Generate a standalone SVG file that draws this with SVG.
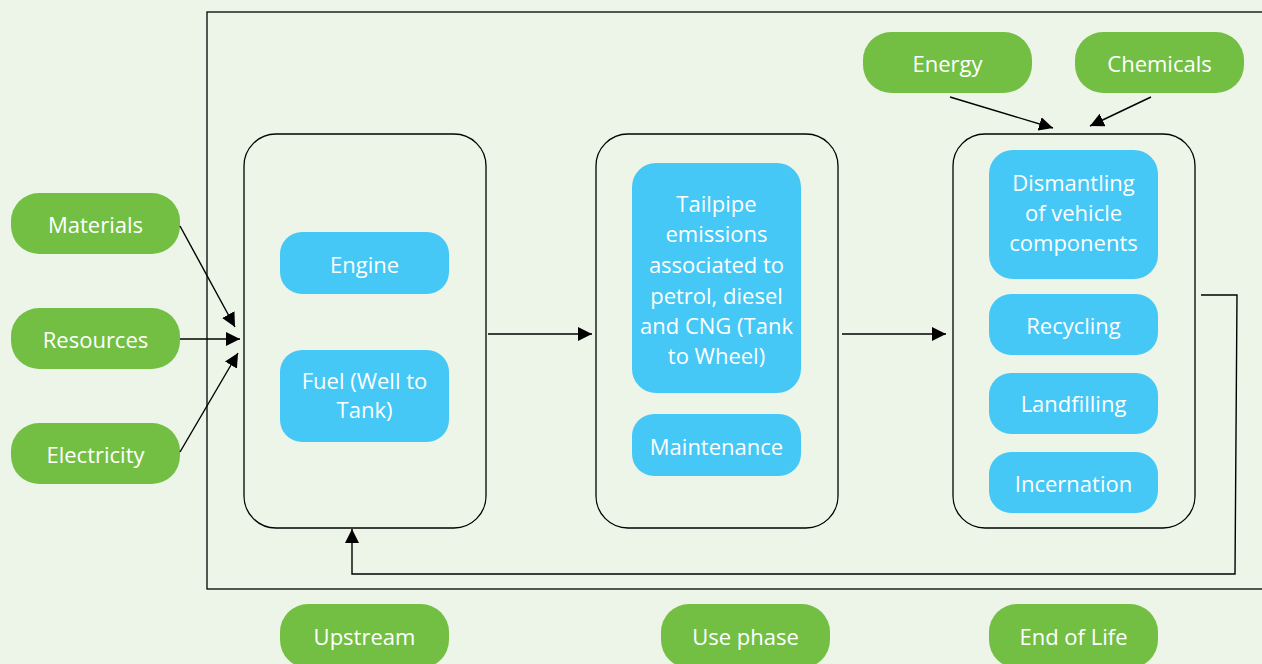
<svg xmlns="http://www.w3.org/2000/svg" width="1262" height="664" viewBox="0 0 1262 664">
<defs>
<style>
.bg{fill:#edf5e8}
.g{fill:#72bf44}
.b{fill:#45c8f5}
.frame{fill:none;stroke:#000;stroke-width:1.3}
.t{font-family:"Open Sans","Liberation Sans",sans-serif;font-size:22px;fill:#fff;text-anchor:middle;dominant-baseline:central}
.c{fill:none;stroke:#000;stroke-width:1.4}
</style>
<marker id="ah" viewBox="0 0 10 10" refX="10" refY="5" markerWidth="14" markerHeight="14" markerUnits="userSpaceOnUse" orient="auto">
<path d="M0,0 L10,5 L0,10 Z" fill="#000"/>
</marker>
</defs>
<rect class="bg" x="0" y="0" width="1262" height="664"/>
<rect class="frame" x="207" y="12" width="1070" height="577"/>
<g id="stage-boxes">
<rect class="frame" x="244" y="134" width="242" height="394" rx="32"/>
<rect class="frame" x="596" y="134" width="242" height="394" rx="32"/>
<rect class="frame" x="953" y="134" width="242" height="394" rx="32"/>
</g>
<g id="materials"><rect class="g" x="11" y="193" width="169" height="61" rx="28"/><text class="t" x="95.5" y="224">Materials</text></g>
<g id="resources"><rect class="g" x="11" y="308" width="169" height="61" rx="28"/><text class="t" x="95.5" y="339">Resources</text></g>
<g id="electricity"><rect class="g" x="11" y="423" width="169" height="61" rx="28"/><text class="t" x="95.5" y="454">Electricity</text></g>
<g id="energy"><rect class="g" x="863" y="32" width="169" height="61" rx="28"/><text class="t" x="947.5" y="63">Energy</text></g>
<g id="chemicals"><rect class="g" x="1075" y="32" width="169" height="61" rx="28"/><text class="t" x="1159.5" y="63">Chemicals</text></g>
<g id="upstream"><rect class="g" x="280" y="604" width="169" height="64" rx="28"/><text class="t" x="364.5" y="636">Upstream</text></g>
<g id="use-phase"><rect class="g" x="661" y="604" width="169" height="64" rx="28"/><text class="t" x="745.5" y="636">Use phase</text></g>
<g id="end-of-life"><rect class="g" x="989" y="604" width="169" height="64" rx="28"/><text class="t" x="1073.5" y="636">End of Life</text></g>
<g id="engine"><rect class="b" x="280" y="232" width="169" height="62" rx="22"/><text class="t" x="364.5" y="264">Engine</text></g>
<g id="fuel"><rect class="b" x="280" y="350" width="169" height="92" rx="22"/><text class="t" x="364.5" y="380">Fuel (Well to</text><text class="t" x="364.5" y="409">Tank)</text></g>
<g id="tailpipe"><rect class="b" x="632" y="163" width="169" height="230" rx="24"/>
<text class="t" x="716.5" y="203">Tailpipe</text>
<text class="t" x="716.5" y="233">emissions</text>
<text class="t" x="716.5" y="264">associated to</text>
<text class="t" x="716.5" y="295">petrol, diesel</text>
<text class="t" x="716.5" y="325">and CNG (Tank</text>
<text class="t" x="716.5" y="355">to Wheel)</text></g>
<g id="maintenance"><rect class="b" x="632" y="414" width="169" height="62" rx="22"/><text class="t" x="716.5" y="446">Maintenance</text></g>
<g id="dismantling"><rect class="b" x="989" y="150" width="169" height="129" rx="24"/>
<text class="t" x="1073.5" y="182">Dismantling</text>
<text class="t" x="1073.5" y="212">of vehicle</text>
<text class="t" x="1073.5" y="242">components</text></g>
<g id="recycling"><rect class="b" x="989" y="294" width="169" height="61" rx="22"/><text class="t" x="1073.5" y="325">Recycling</text></g>
<g id="landfilling"><rect class="b" x="989" y="373" width="169" height="61" rx="22"/><text class="t" x="1073.5" y="403">Landfilling</text></g>
<g id="incernation"><rect class="b" x="989" y="452" width="169" height="61" rx="22"/><text class="t" x="1073.5" y="483">Incernation</text></g>
<g id="connectors">
<line class="c" x1="180" y1="226" x2="235" y2="327" marker-end="url(#ah)"/>
<line class="c" x1="180" y1="339" x2="240" y2="339" marker-end="url(#ah)"/>
<line class="c" x1="180" y1="452" x2="238" y2="353" marker-end="url(#ah)"/>
<line class="c" x1="488" y1="334" x2="592" y2="334" marker-end="url(#ah)"/>
<line class="c" x1="842" y1="334" x2="946" y2="334" marker-end="url(#ah)"/>
<line class="c" x1="950" y1="97" x2="1053" y2="128" marker-end="url(#ah)"/>
<line class="c" x1="1151" y1="97" x2="1090" y2="126" marker-end="url(#ah)"/>
<polyline class="c" points="1201,295 1237,295 1235,574 352,574 352,529" marker-end="url(#ah)"/>
</g>
</svg>
